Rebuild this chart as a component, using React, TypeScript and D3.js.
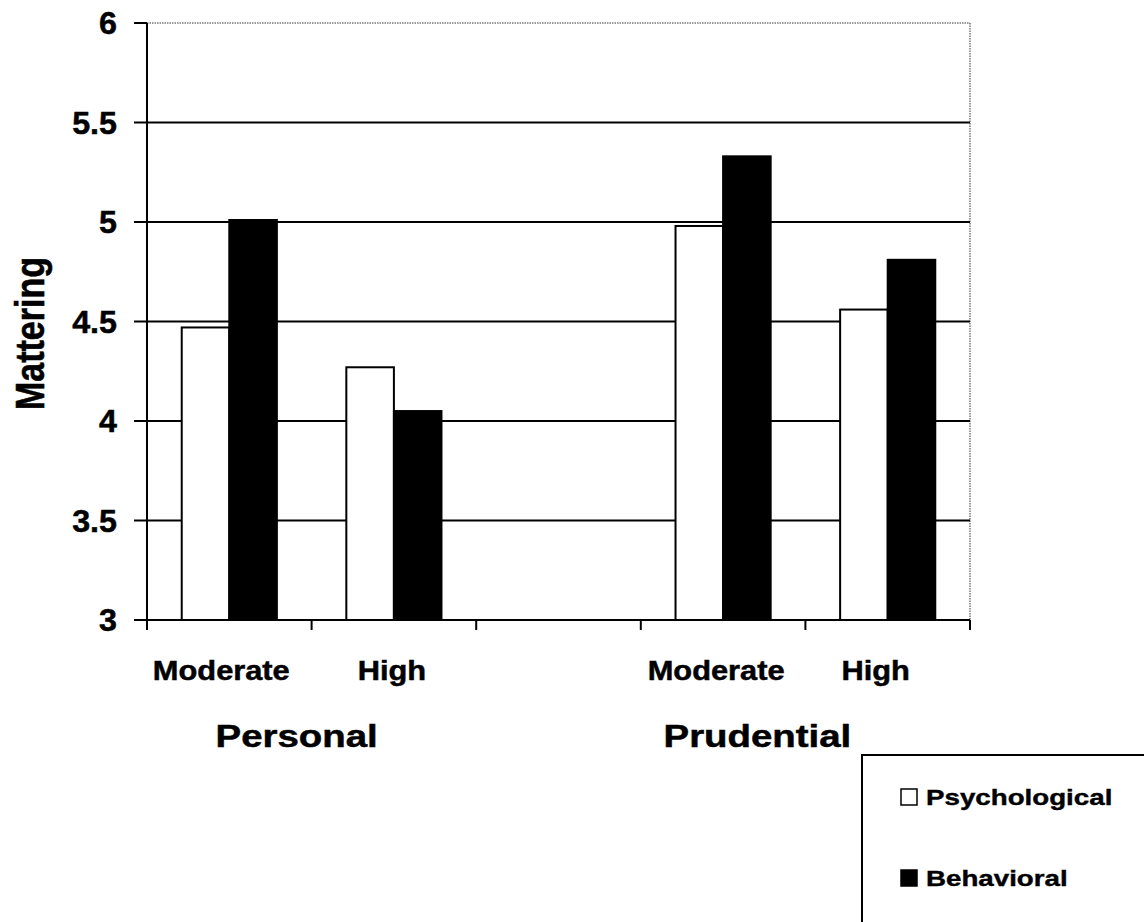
import React from 'react';
import * as d3 from 'd3';

// slots along the x axis (the middle one is an empty spacer)
const slots = ['pers-mod', 'pers-high', 'gap', 'prud-mod', 'prud-high'];
const slotLabels = ['Moderate', 'High', '', 'Moderate', 'High'];
const groups = ['Personal', 'Prudential'];
const series = ['Psychological', 'Behavioral'];
const psychological = [4.47, 4.27, null, 4.98, 4.56];
const behavioral = [5.01, 4.05, null, 5.33, 4.81];
const yTicks = [3, 3.5, 4, 4.5, 5, 5.5, 6];

const seriesColor: Record<string, string> = { Psychological: '#fff', Behavioral: '#000' };
const font = '"Liberation Sans", Arial, sans-serif';
// the scanned original is a little wider than tall, so text gets a horizontal stretch
const SX = 1.1;

const App: React.FC = () => {
  const width = 1144;
  const height = 922;
  const plot = { left: 147, right: 970, top: 23, bottom: 620 };

  const x = d3.scaleBand<string>().domain(slots).range([plot.left, plot.right]);
  const xInner = d3.scaleBand<string>()
    .domain(series)
    .range([0, x.bandwidth()])
    .paddingInner(0)
    .paddingOuter(0.73);
  const y = d3.scaleLinear().domain([3, 6]).range([plot.bottom, plot.top]);

  const values: Record<string, (number | null)[]> = {
    Psychological: psychological,
    Behavioral: behavioral,
  };

  const xTicks = [...slots.map(s => x(s)!), plot.right];
  const groupCenters = [
    (x(slots[0])! + x(slots[1])! + x.bandwidth()) / 2,
    (x(slots[3])! + x(slots[4])! + x.bandwidth()) / 2,
  ];
  const groupShift = [-15, -48];
  const labelShift = [-8, -2, 0, -7, -12];

  return (
    <svg width={width} height={height} style={{ position: 'absolute', left: 0, top: 0, background: '#fff' }}>
      {/* plot border (top/right, dotted grey) */}
      <line x1={plot.left} x2={plot.right} y1={plot.top} y2={plot.top} stroke="#777" strokeWidth={1.5} strokeDasharray="1.5 1" />
      <line x1={plot.right} x2={plot.right} y1={plot.top} y2={plot.bottom} stroke="#777" strokeWidth={1.5} strokeDasharray="1.5 1" />

      {/* gridlines */}
      {yTicks.filter(t => t > 3 && t < 6).map(t => (
        <line key={t} x1={plot.left} x2={plot.right} y1={y(t)} y2={y(t)} stroke="#000" strokeWidth={2} />
      ))}

      {/* bars */}
      {series.map(s => (
        <g key={s}>
          {slots.map((slot, i) => {
            const v = values[s][i];
            if (v == null) return null;
            return (
              <rect
                key={slot}
                x={x(slot)! + xInner(s)!}
                y={y(v)}
                width={xInner.bandwidth()}
                height={y(3) - y(v)}
                fill={seriesColor[s]}
                stroke="#000"
                strokeWidth={2}
              />
            );
          })}
        </g>
      ))}

      <g fontFamily={font} fontWeight="bold" fill="#000" stroke="#000" strokeWidth={0.5}>
        {yTicks.map(t => (
          <text
            key={t}
            transform={`translate(${plot.left - 30},${y(t)}) scale(1.04,1)`}
            dy="0.36em"
            textAnchor="end"
            fontSize={31}
          >
            {t}
          </text>
        ))}
        <text
          transform={`translate(44,${(plot.top + plot.bottom) / 2 + 12}) scale(1.2,1) rotate(-90)`}
          textAnchor="middle"
          fontSize={34}
        >
          Mattering
        </text>
        {slots.map((slot, i) => (
          <text
            key={slot}
            transform={`translate(${x(slot)! + x.bandwidth() / 2 + labelShift[i]},680) scale(${SX},1)`}
            textAnchor="middle"
            fontSize={28}
          >
            {slotLabels[i]}
          </text>
        ))}
        {groups.map((g, i) => (
          <text
            key={g}
            transform={`translate(${groupCenters[i] + groupShift[i]},747) scale(1.2,1)`}
            textAnchor="middle"
            fontSize={32}
          >
            {g}
          </text>
        ))}
      </g>

      {/* y axis */}
      <line x1={plot.left} x2={plot.left} y1={plot.top} y2={plot.bottom} stroke="#000" strokeWidth={2} />
      {yTicks.map(t => (
        <line key={t} x1={plot.left - 13} x2={plot.left} y1={y(t)} y2={y(t)} stroke="#000" strokeWidth={2} />
      ))}

      {/* x axis */}
      <line x1={plot.left} x2={plot.right} y1={plot.bottom} y2={plot.bottom} stroke="#000" strokeWidth={2} />
      {xTicks.map((t, i) => (
        <line key={i} x1={t} x2={t} y1={plot.bottom} y2={plot.bottom + 10} stroke="#000" strokeWidth={2} />
      ))}

      {/* legend */}
      <rect x={862} y={755} width={300} height={200} fill="#fff" stroke="#000" strokeWidth={2} />
      {series.map((s, i) => (
        <g key={s} transform={`translate(901,${789 + i * 81})`}>
          <rect x={0} y={0} width={16} height={16} fill={seriesColor[s]} stroke="#000" strokeWidth={1.5} />
          <text
            transform="translate(25,16) scale(1.26,1)"
            fontFamily={font}
            fontWeight="bold"
            fontSize={22}
            stroke="#000"
            strokeWidth={0.4}
          >
            {s}
          </text>
        </g>
      ))}
    </svg>
  );
};

export default App;
